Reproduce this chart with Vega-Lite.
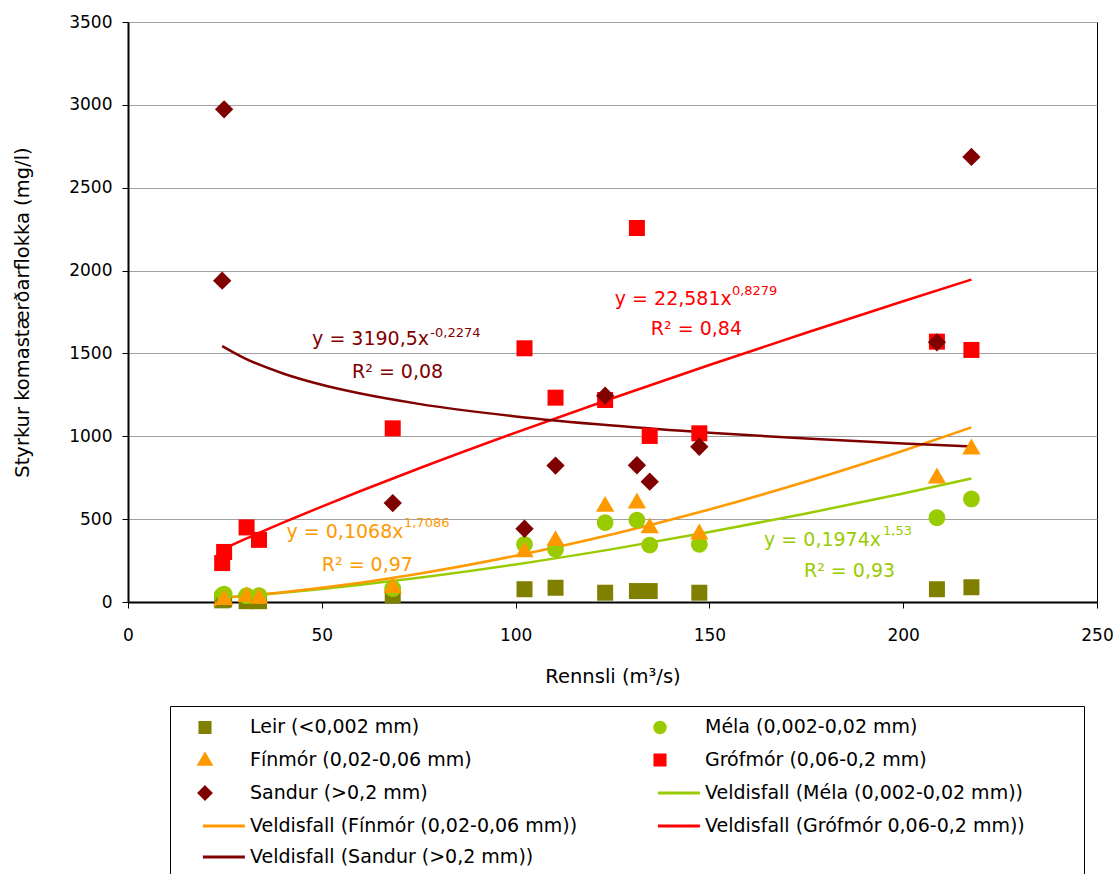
{
  "$schema": "https://vega.github.io/schema/vega-lite/v6.json",
  "autosize": {"type": "none"},
  "padding": {"left": 128, "top": 22, "right": 21, "bottom": 272},
  "width": 969,
  "height": 580,
  "background": "white",
  "config": {
    "font": "DejaVu Sans",
    "view": {"stroke": "#000000", "strokeWidth": 1},
    "axis": {
      "labelFont": "DejaVu Sans", "labelFontSize": 17, "labelColor": "#000000",
      "titleFont": "DejaVu Sans", "titleFontSize": 19.5, "titleFontWeight": "normal", "titleColor": "#000000",
      "domainColor": "#000000", "domainWidth": 2, "tickColor": "#000000", "tickSize": 6, "tickWidth": 1,
      "labelFlush": false, "labelOverlap": false
    }
  },
  "datasets": {
    "obs": [
      {"Q": 24.3, "Leir (<0,002 mm)": 10, "Méla (0,002-0,02 mm)": 40, "Fínmór (0,02-0,06 mm)": 15, "Grófmór (0,06-0,2 mm)": 235, "Sandur (>0,2 mm)": 1939},
      {"Q": 24.8, "Leir (<0,002 mm)": 15, "Méla (0,002-0,02 mm)": 48, "Fínmór (0,02-0,06 mm)": 22, "Grófmór (0,06-0,2 mm)": 302, "Sandur (>0,2 mm)": 2973},
      {"Q": 30.6, "Leir (<0,002 mm)": 5, "Méla (0,002-0,02 mm)": 38, "Fínmór (0,02-0,06 mm)": 40, "Grófmór (0,06-0,2 mm)": 450, "Sandur (>0,2 mm)": null},
      {"Q": 33.8, "Leir (<0,002 mm)": 5, "Méla (0,002-0,02 mm)": 38, "Fínmór (0,02-0,06 mm)": 30, "Grófmór (0,06-0,2 mm)": 375, "Sandur (>0,2 mm)": null},
      {"Q": 68.3, "Leir (<0,002 mm)": 40, "Méla (0,002-0,02 mm)": 82, "Fínmór (0,02-0,06 mm)": 95, "Grófmór (0,06-0,2 mm)": 1048, "Sandur (>0,2 mm)": 597},
      {"Q": 102.3, "Leir (<0,002 mm)": 77, "Méla (0,002-0,02 mm)": 348, "Fínmór (0,02-0,06 mm)": 310, "Grófmór (0,06-0,2 mm)": 1531, "Sandur (>0,2 mm)": 442},
      {"Q": 110.3, "Leir (<0,002 mm)": 86, "Méla (0,002-0,02 mm)": 318, "Fínmór (0,02-0,06 mm)": 378, "Grófmór (0,06-0,2 mm)": 1233, "Sandur (>0,2 mm)": 823},
      {"Q": 123.1, "Leir (<0,002 mm)": 56, "Méla (0,002-0,02 mm)": 479, "Fínmór (0,02-0,06 mm)": 585, "Grófmór (0,06-0,2 mm)": 1219, "Sandur (>0,2 mm)": 1245},
      {"Q": 131.3, "Leir (<0,002 mm)": 66, "Méla (0,002-0,02 mm)": 495, "Fínmór (0,02-0,06 mm)": 605, "Grófmór (0,06-0,2 mm)": 2257, "Sandur (>0,2 mm)": 825},
      {"Q": 134.6, "Leir (<0,002 mm)": 66, "Méla (0,002-0,02 mm)": 344, "Fínmór (0,02-0,06 mm)": 455, "Grófmór (0,06-0,2 mm)": 1002, "Sandur (>0,2 mm)": 726},
      {"Q": 147.4, "Leir (<0,002 mm)": 56, "Méla (0,002-0,02 mm)": 348, "Fínmór (0,02-0,06 mm)": 418, "Grófmór (0,06-0,2 mm)": 1018, "Sandur (>0,2 mm)": 937},
      {"Q": 208.7, "Leir (<0,002 mm)": 77, "Méla (0,002-0,02 mm)": 509, "Fínmór (0,02-0,06 mm)": 756, "Grófmór (0,06-0,2 mm)": 1571, "Sandur (>0,2 mm)": 1567},
      {"Q": 217.6, "Leir (<0,002 mm)": 89, "Méla (0,002-0,02 mm)": 622, "Fínmór (0,02-0,06 mm)": 931, "Grófmór (0,06-0,2 mm)": 1521, "Sandur (>0,2 mm)": 2686}
    ],
    "fits": [
      {"Q": 24.3, "Veldisfall (Méla (0,002-0,02 mm))": 26.0, "Veldisfall (Fínmór (0,02-0,06 mm))": 24.9, "Veldisfall (Grófmór 0,06-0,2 mm))": 316.9, "Veldisfall (Sandur (>0,2 mm))": 1544.6},
      {"Q": 30, "Veldisfall (Méla (0,002-0,02 mm))": 35.9, "Veldisfall (Fínmór (0,02-0,06 mm))": 35.7, "Veldisfall (Grófmór 0,06-0,2 mm))": 377.3, "Veldisfall (Sandur (>0,2 mm))": 1472.1},
      {"Q": 40, "Veldisfall (Méla (0,002-0,02 mm))": 55.8, "Veldisfall (Fínmór (0,02-0,06 mm))": 58.4, "Veldisfall (Grófmór 0,06-0,2 mm))": 478.7, "Veldisfall (Sandur (>0,2 mm))": 1379.0},
      {"Q": 50, "Veldisfall (Méla (0,002-0,02 mm))": 78.5, "Veldisfall (Fínmór (0,02-0,06 mm))": 85.4, "Veldisfall (Grófmór 0,06-0,2 mm))": 575.9, "Veldisfall (Sandur (>0,2 mm))": 1310.7},
      {"Q": 60, "Veldisfall (Méla (0,002-0,02 mm))": 103.8, "Veldisfall (Fínmór (0,02-0,06 mm))": 116.6, "Veldisfall (Grófmór 0,06-0,2 mm))": 669.8, "Veldisfall (Sandur (>0,2 mm))": 1257.7},
      {"Q": 75, "Veldisfall (Méla (0,002-0,02 mm))": 146.0, "Veldisfall (Fínmór (0,02-0,06 mm))": 170.8, "Veldisfall (Grófmór 0,06-0,2 mm))": 805.5, "Veldisfall (Sandur (>0,2 mm))": 1195.5},
      {"Q": 100, "Veldisfall (Méla (0,002-0,02 mm))": 226.7, "Veldisfall (Fínmór (0,02-0,06 mm))": 279.3, "Veldisfall (Grófmór 0,06-0,2 mm))": 1022.2, "Veldisfall (Sandur (>0,2 mm))": 1119.6},
      {"Q": 125, "Veldisfall (Méla (0,002-0,02 mm))": 319.0, "Veldisfall (Fínmór (0,02-0,06 mm))": 409.0, "Veldisfall (Grófmór 0,06-0,2 mm))": 1229.6, "Veldisfall (Sandur (>0,2 mm))": 1064.4},
      {"Q": 150, "Veldisfall (Méla (0,002-0,02 mm))": 421.8, "Veldisfall (Fínmór (0,02-0,06 mm))": 558.5, "Veldisfall (Grófmór 0,06-0,2 mm))": 1430.1, "Veldisfall (Sandur (>0,2 mm))": 1021.0},
      {"Q": 175, "Veldisfall (Méla (0,002-0,02 mm))": 534.0, "Veldisfall (Fínmór (0,02-0,06 mm))": 726.9, "Veldisfall (Grófmór 0,06-0,2 mm))": 1624.7, "Veldisfall (Sandur (>0,2 mm))": 985.9},
      {"Q": 200, "Veldisfall (Méla (0,002-0,02 mm))": 655.0, "Veldisfall (Fínmór (0,02-0,06 mm))": 913.0, "Veldisfall (Grófmór 0,06-0,2 mm))": 1814.6, "Veldisfall (Sandur (>0,2 mm))": 956.5},
      {"Q": 217.6, "Veldisfall (Méla (0,002-0,02 mm))": 745.0, "Veldisfall (Fínmór (0,02-0,06 mm))": 1054.0, "Veldisfall (Grófmór 0,06-0,2 mm))": 1945.7, "Veldisfall (Sandur (>0,2 mm))": 938.2}
    ],
    "ann": [
      {"Q": 47.5, "c": 1551, "label": "y = 3190,5x", "series": "Veldisfall (Sandur (>0,2 mm))"},
      {"Q": 57.8, "c": 1352, "label": "R² = 0,08", "series": "Veldisfall (Sandur (>0,2 mm))"},
      {"Q": 125.6, "c": 1792, "label": "y = 22,581x", "series": "Veldisfall (Grófmór 0,06-0,2 mm))"},
      {"Q": 134.9, "c": 1611, "label": "R² = 0,84", "series": "Veldisfall (Grófmór 0,06-0,2 mm))"},
      {"Q": 40.9, "c": 384, "label": "y = 0,1068x", "series": "Veldisfall (Fínmór (0,02-0,06 mm))"},
      {"Q": 50.0, "c": 189, "label": "R² = 0,97", "series": "Veldisfall (Fínmór (0,02-0,06 mm))"},
      {"Q": 164.1, "c": 338, "label": "y = 0,1974x", "series": "Veldisfall (Méla (0,002-0,02 mm))"},
      {"Q": 174.4, "c": 151, "label": "R² = 0,93", "series": "Veldisfall (Méla (0,002-0,02 mm))"}
    ],
    "sup": [
      {"Q": 78.0, "c": 1599, "label": "-0,2274", "series": "Veldisfall (Sandur (>0,2 mm))"},
      {"Q": 155.8, "c": 1850, "label": "0,8279", "series": "Veldisfall (Grófmór 0,06-0,2 mm))"},
      {"Q": 71.2, "c": 451, "label": "1,7086", "series": "Veldisfall (Fínmór (0,02-0,06 mm))"},
      {"Q": 194.8, "c": 404, "label": "1,53", "series": "Veldisfall (Méla (0,002-0,02 mm))"}
    ]
  },
  "encoding": {
    "x": {"field": "Q", "type": "quantitative",
      "scale": {"domain": [0, 250], "nice": false, "zero": true},
      "axis": {"orient": "bottom", "title": "Rennsli (m³/s)", "format": "d", "values": [0, 50, 100, 150, 200, 250], "grid": false, "labelPadding": 19, "titlePadding": 24}},
    "y": {"field": "c", "type": "quantitative",
      "scale": {"domain": [0, 3500], "nice": false},
      "axis": {"orient": "left", "title": "Styrkur komastærðarflokka (mg/l)", "format": "d", "values": [0, 500, 1000, 1500, 2000, 2500, 3000, 3500], "grid": true, "gridColor": "#a0a0a0", "gridWidth": 1, "labelPadding": 10, "titlePadding": 36}}
  },
  "layer": [
    {
      "data": {"name": "fits"},
      "transform": [{"fold": ["Veldisfall (Méla (0,002-0,02 mm))", "Veldisfall (Fínmór (0,02-0,06 mm))", "Veldisfall (Grófmór 0,06-0,2 mm))", "Veldisfall (Sandur (>0,2 mm))"], "as": ["series", "c"]}],
      "mark": {"type": "line", "strokeWidth": 2.5, "interpolate": "monotone"},
      "encoding": {
        "color": {"field": "series", "type": "nominal",
          "scale": {
            "domain": ["Leir (<0,002 mm)", "Méla (0,002-0,02 mm)", "Fínmór (0,02-0,06 mm)", "Grófmór (0,06-0,2 mm)", "Sandur (>0,2 mm)", "Veldisfall (Méla (0,002-0,02 mm))", "Veldisfall (Fínmór (0,02-0,06 mm))", "Veldisfall (Grófmór 0,06-0,2 mm))", "Veldisfall (Sandur (>0,2 mm))"],
            "range": ["#808000", "#99cc00", "#ff9900", "#ff0000", "#800000", "#99cc00", "#ff9900", "#ff0000", "#800000"]
          },
          "legend": {
            "title": "\u2003\u2003\u2003", "titleOrient": "right", "titleFontSize": 19, "titlePadding": 50,
            "orient": "none", "legendX": 42, "legendY": 684, "columns": 2, "direction": "horizontal",
            "padding": 9, "strokeColor": "#000000", "fillColor": "#ffffff",
            "labelFont": "DejaVu Sans", "labelFontSize": 19, "labelColor": "#000000", "labelLimit": 600,
            "rowPadding": 9, "columnPadding": 56, "symbolSize": 441, "symbolStrokeWidth": 3,
            "symbolOffset": 14, "labelOffset": 33, "symbolOpacity": 1,
            "symbolFillColor": "#808080", "symbolStrokeColor": "#808080"
          }
        }
      }
    },
    {
      "data": {"name": "obs"},
      "transform": [{"fold": ["Leir (<0,002 mm)", "Méla (0,002-0,02 mm)", "Fínmór (0,02-0,06 mm)", "Grófmór (0,06-0,2 mm)", "Sandur (>0,2 mm)"], "as": ["series", "c"]}],
      "mark": {"type": "point", "filled": true, "opacity": 1, "size": 1111},
      "encoding": {
        "color": {"field": "series", "type": "nominal"},
        "shape": {"field": "series", "type": "nominal",
          "scale": {
            "domain": ["Leir (<0,002 mm)", "Méla (0,002-0,02 mm)", "Fínmór (0,02-0,06 mm)", "Grófmór (0,06-0,2 mm)", "Sandur (>0,2 mm)", "Veldisfall (Méla (0,002-0,02 mm))", "Veldisfall (Fínmór (0,02-0,06 mm))", "Veldisfall (Grófmór 0,06-0,2 mm))", "Veldisfall (Sandur (>0,2 mm))"],
            "range": ["M-0.48,-0.48H0.48V0.48H-0.48Z", "M-0.5,0A0.5,0.5,0,1,0,0.5,0A0.5,0.5,0,1,0,-0.5,0Z", "M0,-0.55L0.55,0.4L-0.55,0.4Z", "M-0.48,-0.48H0.48V0.48H-0.48Z", "M0,-0.55L0.55,0L0,0.55L-0.55,0Z", "M-0.2,0H3.8", "M-0.2,0H3.8", "M-0.2,0H3.8", "M-0.2,0H3.8"]
          }
        }
      }
    },
    {
      "data": {"name": "ann"},
      "mark": {"type": "text", "align": "left", "baseline": "alphabetic", "font": "DejaVu Sans", "fontSize": 19},
      "encoding": {
        "text": {"field": "label"},
        "color": {"field": "series", "type": "nominal", "legend": null}
      }
    },
    {
      "data": {"name": "sup"},
      "mark": {"type": "text", "align": "left", "baseline": "alphabetic", "font": "DejaVu Sans", "fontSize": 13},
      "encoding": {
        "text": {"field": "label"},
        "color": {"field": "series", "type": "nominal", "legend": null}
      }
    }
  ]
}
